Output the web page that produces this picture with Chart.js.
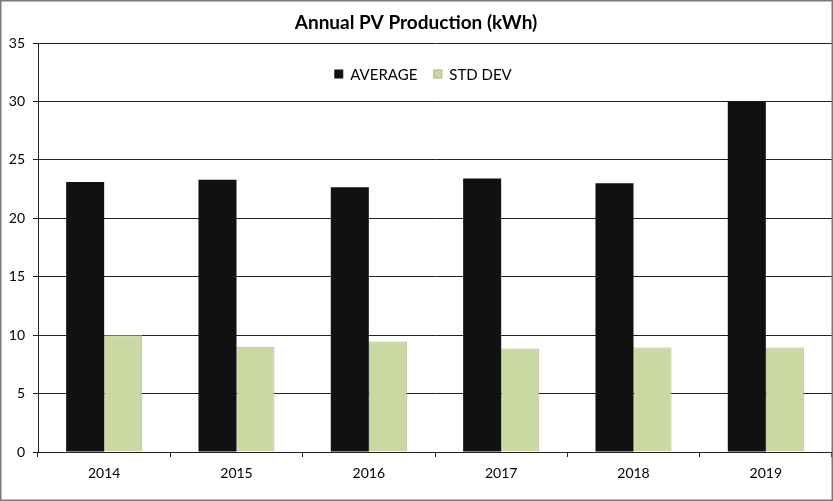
<!DOCTYPE html>
<html>
<head>
<meta charset="utf-8">
<script src="https://cdn.jsdelivr.net/npm/chart.js@4.4.1/dist/chart.umd.min.js"></script>
<style>
  html, body { margin: 0; padding: 0; background: #fff; }
  #wrap { width: 833px; height: 501px; position: relative; }
</style>
</head>
<body>
<div id="wrap"><canvas id="c" width="833" height="501"></canvas></div>
<script>
const categories = ['2014', '2015', '2016', '2017', '2018', '2019'];
const averageValues = [23.1, 23.3, 22.65, 23.4, 23.0, 30.0];
const stdDevValues = [10.0, 9.0, 9.45, 8.85, 8.95, 8.95];
const yTicks = [0, 5, 10, 15, 20, 25, 30, 35];

const FONT = 'Lato, "Open Sans", "Liberation Sans", sans-serif';

const framePlugin = {
  id: 'frame',
  afterDraw(chart) {
    const ctx = chart.ctx;
    ctx.save();
    ctx.strokeStyle = '#7a7a7a';
    ctx.lineWidth = 1.5;
    ctx.strokeRect(0.75, 0.75, chart.width - 1.5, chart.height - 1.5);
    ctx.restore();
  }
};

// Legend drawn inside the plot area (like the Excel original), from the datasets
const insideLegend = {
  id: 'insideLegend',
  afterDraw(chart) {
    const ctx = chart.ctx;
    const ds = chart.data.datasets;
    const box = 9, gapText = 7, gapItem = 16;
    ctx.save();
    ctx.font = '15px ' + FONT;
    ctx.textBaseline = 'middle';
    let total = 0;
    const widths = ds.map(d => ctx.measureText(d.label).width);
    widths.forEach((w, i) => { total += box + gapText + w + (i < ds.length - 1 ? gapItem : 0); });
    const area = chart.chartArea;
    let x = (area.left + area.right) / 2 - 12 - total / 2;
    const y = area.top + 31;
    ds.forEach((d, i) => {
      ctx.fillStyle = d.backgroundColor;
      ctx.fillRect(x, y - box / 2, box, box);
      if (d.borderWidth) {
        ctx.strokeStyle = d.borderColor;
        ctx.lineWidth = 1;
        ctx.strokeRect(x + 0.5, y - box / 2 + 0.5, box - 1, box - 1);
      }
      x += box + gapText;
      ctx.fillStyle = '#000';
      ctx.fillText(d.label, x, y + 1);
      x += widths[i] + gapItem;
    });
    ctx.restore();
  }
};

new Chart(document.getElementById('c'), {
  type: 'bar',
  data: {
    labels: categories,
    datasets: [
      {
        label: 'AVERAGE',
        data: averageValues,
        backgroundColor: '#111111',
        borderColor: '#111111',
        borderWidth: 0
      },
      {
        label: 'STD DEV',
        data: stdDevValues,
        backgroundColor: '#c9d9a1',
        borderColor: '#bdb894',
        borderWidth: 1
      }
    ]
  },
  options: {
    responsive: false,
    animation: false,
    devicePixelRatio: 1,
    layout: { padding: { left: 0, right: 1, top: 0, bottom: 0 } },
    datasets: { bar: { categoryPercentage: 0.575, barPercentage: 1.0 } },
    plugins: {
      title: {
        display: true,
        text: 'Annual PV Production (kWh)',
        color: '#000',
        font: { family: FONT, size: 19, weight: 'bold' },
        padding: { top: 11.5, bottom: 8.7 }
      },
      legend: { display: false },
      tooltip: { enabled: false }
    },
    scales: {
      x: {
        grid: {
          display: true,
          drawOnChartArea: false,
          drawTicks: true,
          tickLength: 5,
          color: '#222',
          offset: true
        },
        border: { display: true, color: '#222', width: 1 },
        ticks: {
          color: '#000',
          font: { family: FONT, size: 14 },
          padding: 8
        },
        afterFit(scale) { scale.height = 49; }
      },
      y: {
        min: 0,
        max: 35,
        afterBuildTicks(scale) { scale.ticks = yTicks.map(v => ({ value: v })); },
        grid: {
          color: '#222',
          tickLength: 5,
          drawTicks: true
        },
        border: { display: true, color: '#222', width: 1 },
        ticks: {
          color: '#000',
          font: { family: FONT, size: 14 },
          padding: 8
        },
        afterFit(scale) { scale.width = 38; }
      }
    }
  },
  plugins: [framePlugin, insideLegend]
});
</script>
</body>
</html>
